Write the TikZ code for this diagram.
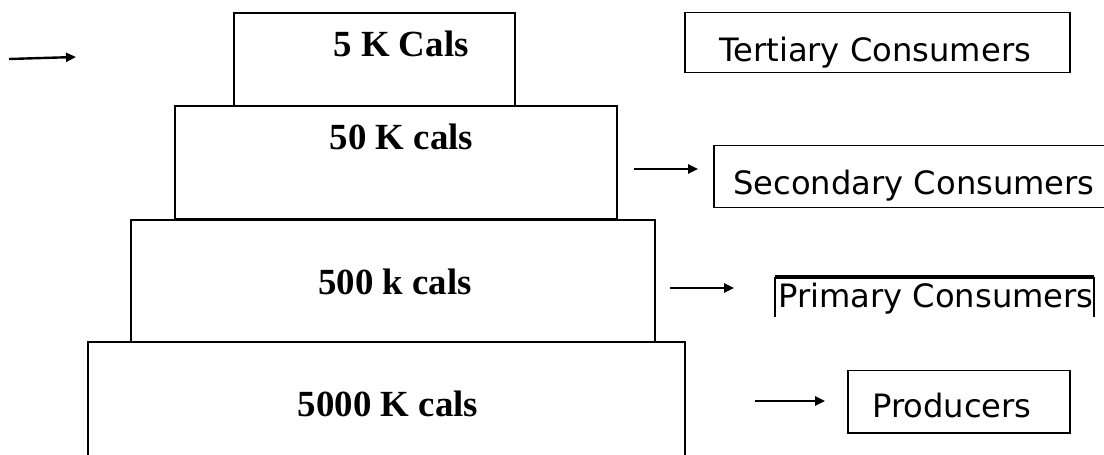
\documentclass[tikz,border=0pt]{standalone}
\usepackage{fontspec}
\setmainfont{Liberation Serif}
\newfontfamily\verd{DejaVu Sans}
\usetikzlibrary{arrows.meta}
\tikzset{
  layer/.style={draw, line width=1.8bp, inner sep=0pt, anchor=north west},
  lbox/.style={draw, line width=1.5bp, inner sep=0pt, anchor=north west},
  cal/.style={font=\fontsize{37}{42}\selectfont\bfseries, inner sep=0pt, anchor=base},
  lab/.style={font=\verd\fontsize{32.3}{37}\selectfont, inner sep=0pt, anchor=base west},
  arr/.style={line width=2.4bp, -{Triangle[length=10bp,width=9bp]}}
}
\begin{document}
\begin{tikzpicture}[x=1bp,y=-1bp]
\useasboundingbox (0,0) rectangle (1104,455);
% pyramid
\node[layer, minimum width=281bp, minimum height=93bp] (l1) at (233,12) {};
\node[layer, minimum width=442bp, minimum height=113bp] (l2) at (174,105) {};
\node[layer, minimum width=524bp, minimum height=122bp] (l3) at (130,219) {};
\node[layer, minimum width=597bp, minimum height=116bp] (l4) at (87,341) {};
\node[cal] (t1) at (401,57) {5 K Cals};
\node[cal] (t2) at (401.5,150) {50 K cals};
\node[cal] (t3) at (395,295) {500 k cals};
\node[cal] (t4) at (388,417) {5000 K cals};
% labels
\node[lbox, minimum width=385bp, minimum height=60bp] (b1) at (684,12) {};
\node[lbox, minimum width=420bp, minimum height=62bp] (b2) at (713,145) {};
\node[lbox, minimum width=222bp, minimum height=62bp] (b4) at (847,370) {};
\node[lab] (s1) at (719,62) {Tertiary Consumers};
\node[lab] (s2) at (733,195) {Secondary Consumers};
\node[lab] (s3) at (778,308) {Primary Consumers};
\node[lab] (s4) at (872,418) {Producers};
% primary box (open bottom)
\coordinate (p1) at (775,317);
\coordinate (p2) at (775,277);
\coordinate (p3) at (1094,277);
\coordinate (p4) at (1094,317);
\draw[line width=2bp] (p1) -- (p2);
\draw[line width=3.5bp] (p2) -- (p3);
\draw[line width=2.5bp] (p3) -- (p4);
% arrows
\coordinate (a0s) at (9,59);
\coordinate (a0e) at (76,57);
\coordinate (a2s) at (634,169);
\coordinate (a2e) at (698,169);
\coordinate (a3s) at (670,288);
\coordinate (a3e) at (734,288);
\coordinate (a4s) at (755,401);
\coordinate (a4e) at (825,401);
\draw[arr] (a0s) -- (a0e);
\draw[arr] (a2s) -- (a2e);
\draw[arr] (a3s) -- (a3e);
\draw[arr] (a4s) -- (a4e);
\end{tikzpicture}
\end{document}
